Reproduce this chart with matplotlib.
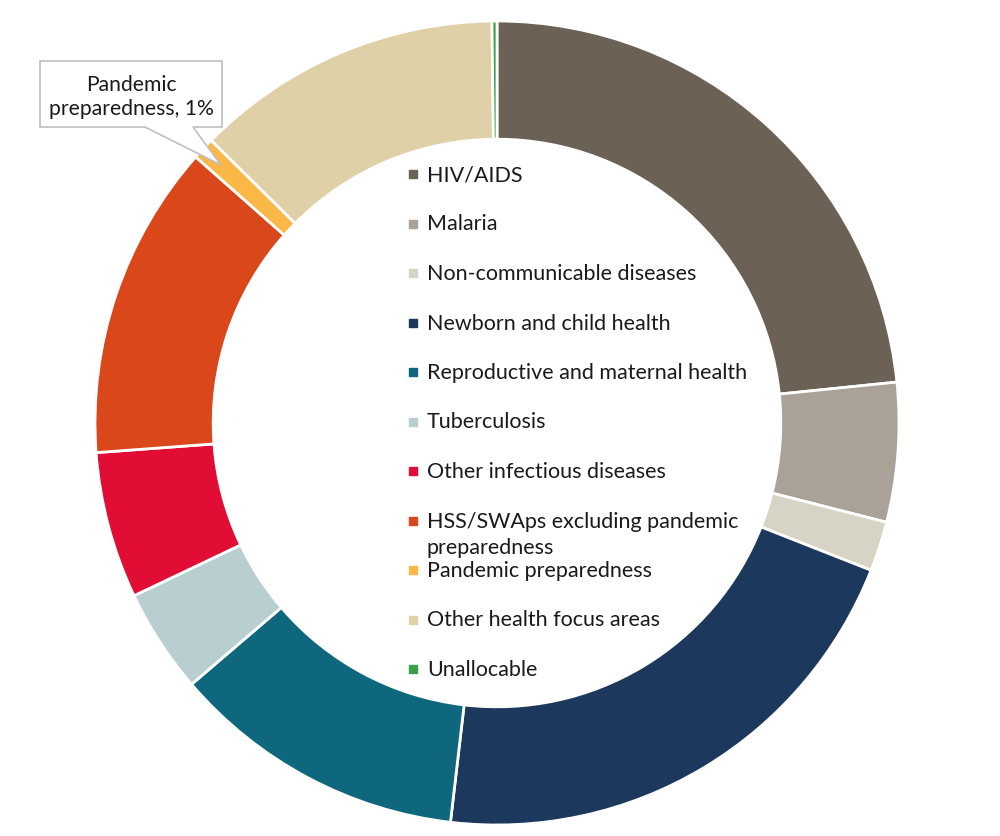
import numpy as np
from matplotlib import pyplot as plt
from matplotlib.patches import Polygon

plt.rcParams['font.family'] = ['Lato', 'DejaVu Sans']

categories = ['HIV/AIDS', 'Malaria', 'Non-communicable diseases',
              'Newborn and child health', 'Reproductive and maternal health',
              'Tuberculosis', 'Other infectious diseases',
              'HSS/SWAps excluding pandemic\npreparedness',
              'Pandemic preparedness', 'Other health focus areas', 'Unallocable']
shares = [23.4, 5.6, 2.0, 20.9, 11.9, 4.2, 5.9, 12.7, 0.9, 12.4, 0.2]
colors = ['#6b6155', '#aaa298', '#d7d3c5', '#1c385c', '#0e677d', '#b8ced0',
          '#e10d34', '#d9471b', '#fbb847', '#dfd0a8', '#37a048']

# figure is 1000x837 px, donut centre at (497, 424) px, outer radius 402 px
W, H = 1000, 837
cx, cy, R = 497, 424, 402


def px(x, y):
    # pixel (from top-left) -> data units
    return (x - cx) / R, (cy - y) / R


fig = plt.figure(figsize=(W / 100, H / 100), dpi=100)
ax = fig.add_axes([0, 0, 1, 1])

wedges, _ = ax.pie(shares, colors=colors, startangle=90, counterclock=False,
                   radius=1, wedgeprops=dict(width=0.294, edgecolor='white', linewidth=2))
ax.set_xlim(-cx / R, (W - cx) / R)
ax.set_ylim(-(H - cy) / R, cy / R)
ax.axis('off')

# legend drawn inside the hole
y0, step = 175, 49.5
for i, (lab, col) in enumerate(zip(categories, colors)):
    y = y0 + i * step
    mx, my = px(413, y)
    ax.plot(mx, my, marker='s', markersize=6, color=col, linestyle='none')
    for j, line in enumerate(lab.split('\n')):
        tx, ty = px(427, y + j * 27)
        ax.text(tx, ty, line, fontsize=15.5, color='#1a1a1a', va='center', ha='left')

# callout for pandemic preparedness
k = categories.index('Pandemic preparedness')
mid = 90 - (sum(shares[:k]) + shares[k] / 2) / sum(shares) * 360
tip = (0.94 * np.cos(np.radians(mid)), 0.94 * np.sin(np.radians(mid)))
pts = [px(40, 62), px(222, 62), px(222, 128), px(193, 128), tip,
       px(145, 128), px(40, 128)]
ax.add_patch(Polygon(pts, closed=True, facecolor='white', edgecolor='#bfbfbf',
                     linewidth=1.2, zorder=5))
lx, ly = px(131, 97)
ax.text(lx, ly, 'Pandemic\npreparedness, 1%', fontsize=15.2, color='#1a1a1a',
        ha='center', va='center', linespacing=1.3, zorder=6)

fig.savefig('out.png', dpi=100)
